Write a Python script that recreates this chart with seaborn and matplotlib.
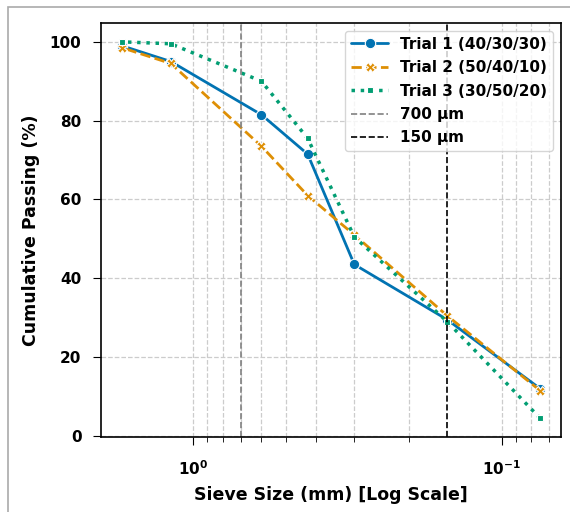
import numpy as np
import pandas as pd
import matplotlib
matplotlib.use("Agg")
import matplotlib.pyplot as plt
import seaborn as sns
from matplotlib.patches import Rectangle

sieve_mm = [1.7, 1.18, 0.6, 0.425, 0.3, 0.15, 0.075]
trial1 = [99.0, 95.0, 81.5, 71.5, 43.5, 29.5, 12.0]
trial2 = [98.5, 94.5, 73.5, 61.0, 51.0, 30.5, 11.5]
trial3 = [100.0, 99.5, 90.0, 75.5, 50.5, 29.0, 4.5]
labels = ["Trial 1 (40/30/30)", "Trial 2 (50/40/10)", "Trial 3 (30/50/20)"]
ref_sizes = [0.7, 0.15]
ref_labels = ["700 µm", "150 µm"]

sns.set_style("ticks")
plt.rcParams['font.family'] = ['DejaVu Sans']
plt.rcParams['font.weight'] = 'bold'
plt.rcParams['axes.labelweight'] = 'bold'
plt.rcParams['text.color'] = 'black'
plt.rcParams['axes.labelcolor'] = 'black'
plt.rcParams['xtick.color'] = 'black'
plt.rcParams['ytick.color'] = 'black'

pal = sns.color_palette("colorblind")
fig = plt.figure(figsize=(5.7, 5.12), dpi=100)
ax = fig.add_axes([101/570, 1-437/512, 460/570, 414/512])

series = [trial1, trial2, trial3]
markers = ['o', 'X', 's']
lss = ['-', '--', ':']
msz = [7.5, 7, 5]
lws = [2, 2, 2.5]
for i, (vals, lab) in enumerate(zip(series, labels)):
    df = pd.DataFrame({"size": sieve_mm, "pass": vals})
    sns.lineplot(data=df, x="size", y="pass", ax=ax, color=pal[i], marker=markers[i],
                 linestyle=lss[i], markersize=msz[i], linewidth=lws[i], label=lab,
                 markeredgecolor='white', markeredgewidth=0.8)

ax.axvline(ref_sizes[0], color='gray', linestyle='--', linewidth=1.2, label=ref_labels[0])
ax.axvline(ref_sizes[1], color='black', linestyle='--', linewidth=1.2, label=ref_labels[1])

ax.set_xscale('log')
ax.invert_xaxis()
ax.grid(True, which='both', axis='x', linestyle='--', color='#cccccc', linewidth=0.9)
ax.grid(True, which='major', axis='y', linestyle='--', color='#cccccc', linewidth=0.9)
ax.set_axisbelow(True)
for s in ax.spines.values():
    s.set_visible(True)
    s.set_color('black')
    s.set_linewidth(1.2)
ax.set_xlabel("Sieve Size (mm) [Log Scale]", fontsize=12.5, fontweight='bold', labelpad=6)
ax.set_ylabel("Cumulative Passing (%)", fontsize=12.5, fontweight='bold', labelpad=7)
ax.tick_params(axis='both', labelsize=11, colors='black')
ax.tick_params(axis='x', which='major', length=6, pad=10)
ax.tick_params(axis='x', which='minor', length=3.5)
ax.tick_params(axis='y', which='major', length=6, pad=8)
for t in ax.get_xticklabels() + ax.get_yticklabels():
    t.set_fontweight('bold')
leg = ax.legend(loc='upper right', fontsize=11, frameon=True, handlelength=2.4,
                labelspacing=0.55)
for t in leg.get_texts():
    t.set_fontweight('bold')
    t.set_color('black')

fig.patches.append(Rectangle((8/570, -0.1), 1.2, 1.1 - 7/512, transform=fig.transFigure,
                             fill=False, edgecolor='#aaaaaa', linewidth=1.2, figure=fig))

fig.savefig("out.png", dpi=100)
